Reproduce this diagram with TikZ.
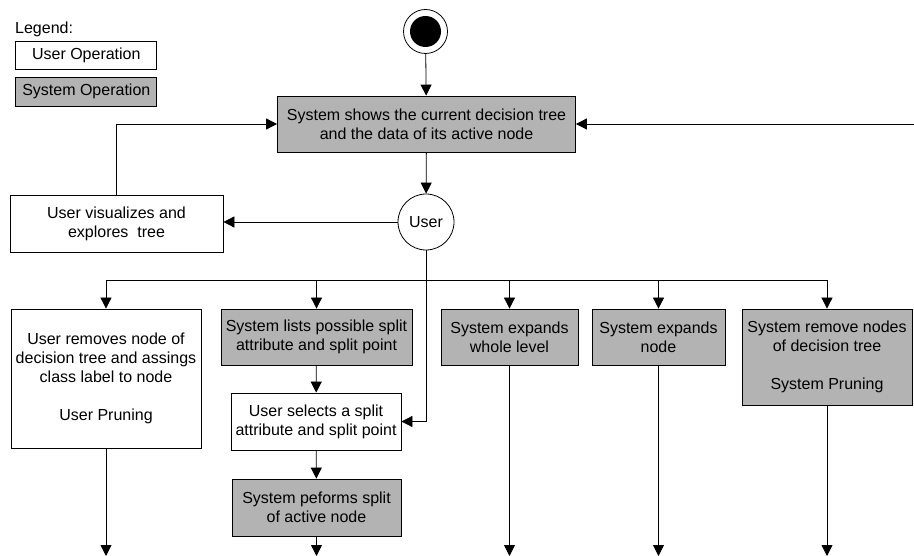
\documentclass[tikz,border=0pt]{standalone}
\usepackage{fontspec}
\setmainfont{Liberation Sans}
\usetikzlibrary{arrows.meta}
\definecolor{sysgray}{RGB}{179,179,179}
\tikzset{
  every node/.style={font=\fontsize{16}{19}\selectfont, inner sep=0pt, align=center},
  box/.style={draw=black, line width=0.8pt, rectangle},
  uop/.style={box, fill=white},
  sop/.style={box, fill=sysgray},
  conn/.style={draw=black, line width=0.8pt},
  arr/.style={conn, -{Triangle[length=11pt,width=11pt]}},
}
\begin{document}
\begin{tikzpicture}[x=1pt,y=-1pt]
\useasboundingbox (0,0) rectangle (914,556);
% legend
\node[anchor=west] (legtitle) at (15,29) {Legend:};
\node[uop, minimum width=141, minimum height=28] (leguser) at (86.3,55) {User Operation};
\node[sop, minimum width=141, minimum height=29] (legsys) at (86.3,91.5) {System Operation};
% start
\node[circle, draw=black, line width=0.8pt, minimum size=44, fill=white] (start) at (425.5,31.5) {};
\fill[black] (start.center) circle (15.5);
% main
\node[sop, minimum width=298, minimum height=56] (main) at (426.5,124) {System shows the current decision tree\\and the data of its active node};
\node[circle, draw=black, line width=0.8pt, minimum size=56, fill=white] (user) at (426,222) {User};
\node[uop, minimum width=213, minimum height=57] (vis) at (116.5,223.5) {User visualizes and\\explores~~tree};
% row
\node[uop, minimum width=190, minimum height=139] (rem) at (106,378.5) {User removes node of\\decision tree and assings\\class label to node\\[19pt]User Pruning};
\node[sop, minimum width=191, minimum height=56] (lists) at (316.5,337) {System lists possible split\\attribute and split point};
\node[uop, minimum width=170, minimum height=57] (sel) at (316,421.5) {User selects a split\\attribute and split point};
\node[sop, minimum width=169, minimum height=57] (perf) at (316.5,507.5) {System peforms split\\of active node};
\node[sop, minimum width=137, minimum height=56] (level) at (509.5,337) {System expands\\whole level};
\node[sop, minimum width=133, minimum height=56] (expn) at (658.5,337) {System expands\\node};
\node[sop, minimum width=170, minimum height=96] (sysrem) at (827,357) {System remove nodes\\of decision tree\\[19pt]System Pruning};
% coordinates
\coordinate (rin) at (914,124);
\coordinate (busL) at (106,280);
\coordinate (busR) at (827,280);
\coordinate (o1) at (106,556);
\coordinate (o2) at (316.5,556);
\coordinate (o3) at (509.5,556);
\coordinate (o4) at (658.5,556);
\coordinate (o5) at (827,556);
% connectors
\draw[arr] (start) -- (main);
\draw[arr] (main) -- (user);
\draw[arr] (user.west) -- (user.west -| vis.east);
\draw[arr] (vis.north) |- (main.west);
\draw[arr] (rin) -- (main.east);
\draw[conn] (busL) -- (busR);
\draw[arr] (busL) -- (rem.north);
\draw[arr] (lists.north |- busL) -- (lists.north);
\draw[arr] (level.north |- busL) -- (level.north);
\draw[arr] (expn.north |- busL) -- (expn.north);
\draw[arr] (busR) -- (sysrem.north);
\draw[arr] (user.south) |- (sel.east);
\draw[arr] (lists) -- (sel);
\draw[arr] (sel) -- (perf);
\draw[arr] (rem.south) -- (o1);
\draw[arr] (perf.south) -- (o2);
\draw[arr] (level.south) -- (o3);
\draw[arr] (expn.south) -- (o4);
\draw[arr] (sysrem.south) -- (o5);
\end{tikzpicture}
\end{document}
